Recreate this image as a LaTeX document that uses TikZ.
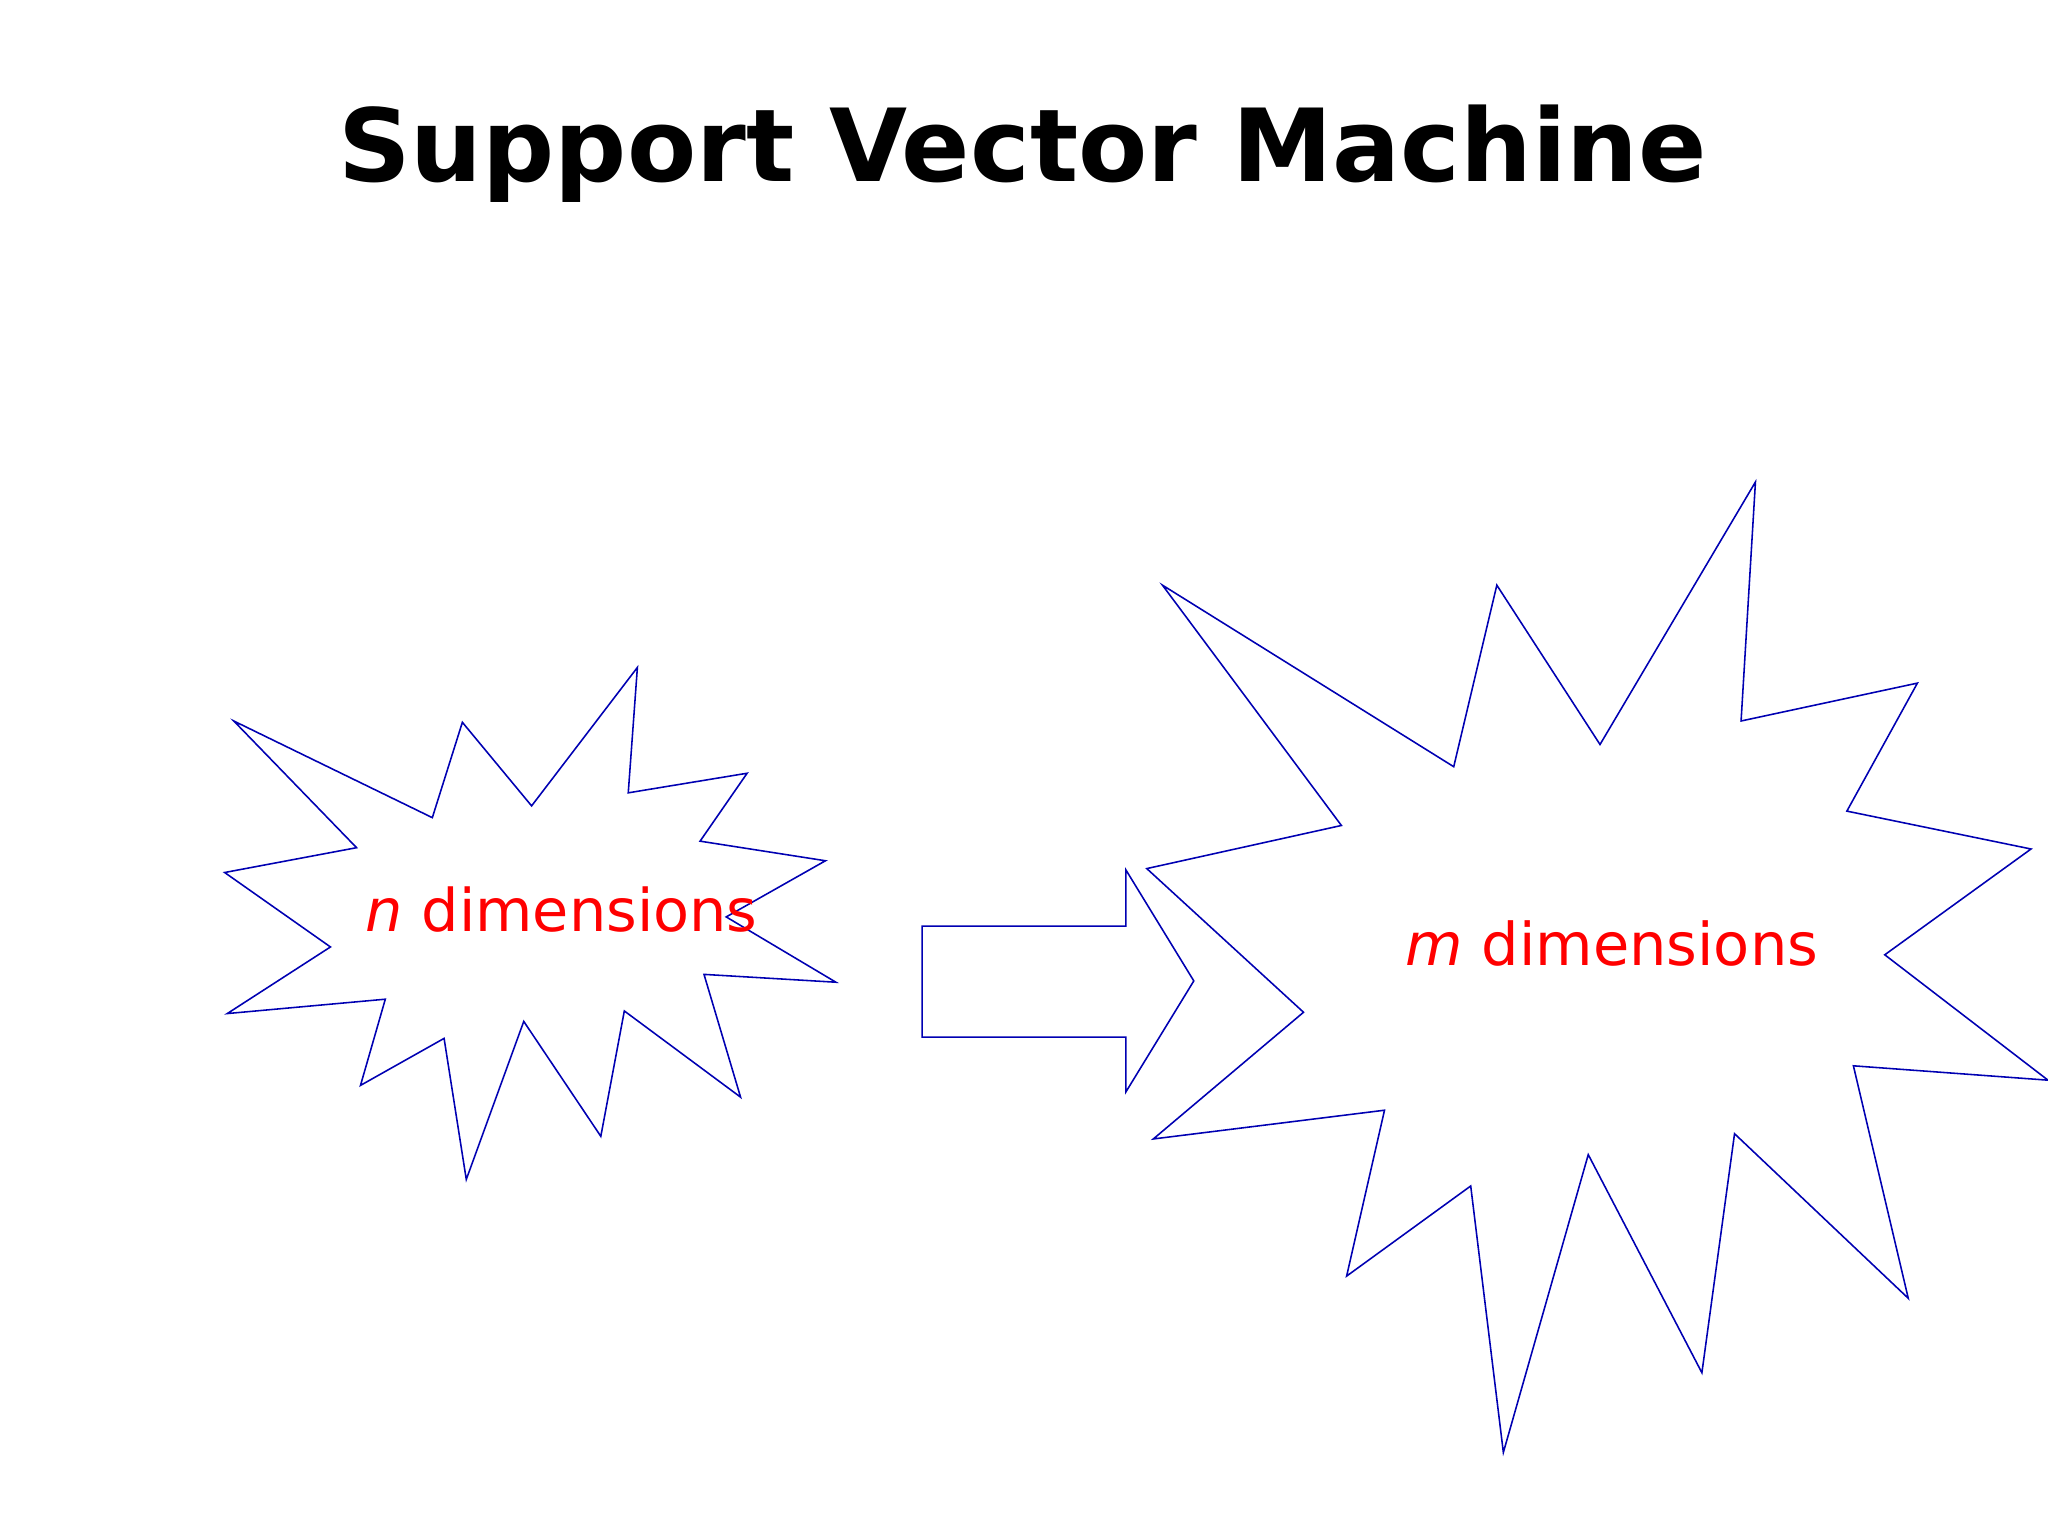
\documentclass[tikz,border=0pt]{standalone}
\usepackage{fontspec}
\setmainfont{DejaVu Sans}
\begin{document}
\begin{tikzpicture}[x=1pt,y=-1pt,star/.style={draw=blue!70!black,line width=1.2pt,line join=miter},
lab/.style={text=red,inner sep=0pt}]
\useasboundingbox (0,0) rectangle (1568,1176);
\node[inner sep=0pt] (title) at (783,118) {\resizebox{1048pt}{!}{\fontsize{96}{110}\selectfont\bfseries Support Vector Machine}};
\draw[star] (179,552)--(331,626)--(354,553)--(407,617)--(488,511)--(481,607)--(572,592)--(536,644)--(632,659)--(556,702)--(640,752)--(539,746)--(567,840)--(478,774)--(460,870)--(401,782)--(357,903)--(340,795)--(276,831)--(295,765)--(174,776)--(253,725)--(172,668)--(273,649)--cycle;
\draw[star] (890,448)--(1113,587)--(1146,448)--(1225,570)--(1344,369)--(1333,552)--(1468,523)--(1414,621)--(1555,650)--(1443,731)--(1568,827)--(1419,816)--(1461,994)--(1328,868)--(1303,1051)--(1216,884)--(1151,1112)--(1126,908)--(1031,977)--(1060,850)--(883,872)--(998,775)--(878,665)--(1027,632)--cycle;
\draw[star] (706,709)--(862,709)--(862,666)--(914,751)--(862,836)--(862,794)--(706,794)--cycle;
\node[lab] (n) at (430,696) {\resizebox{300pt}{!}{\fontsize{58}{66}\selectfont\textit{n} dimensions}};
\node[lab] (m) at (1234,722) {\resizebox{316pt}{!}{\fontsize{58}{66}\selectfont\textit{m} dimensions}};
\end{tikzpicture}
\end{document}
